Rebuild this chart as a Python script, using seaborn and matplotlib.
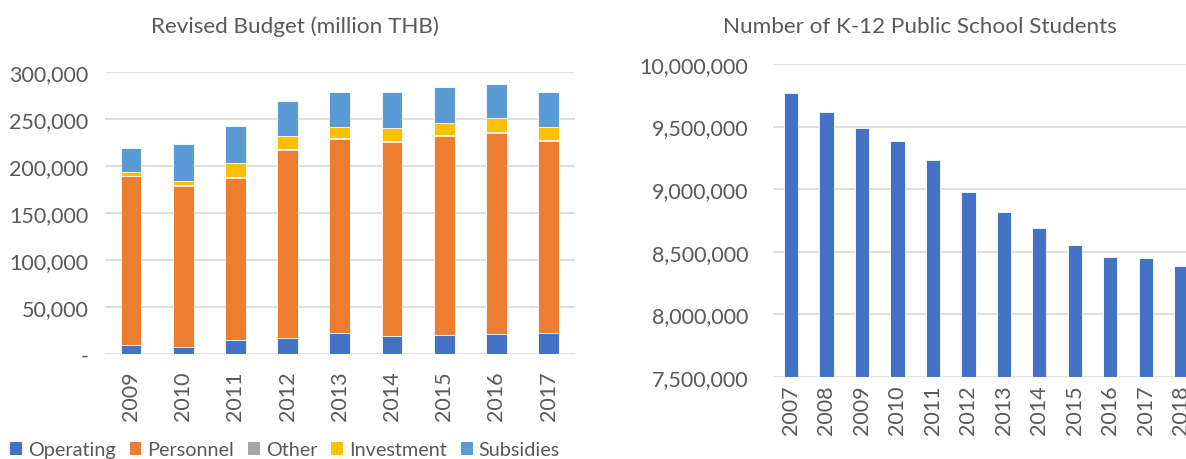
import pandas as pd
import seaborn as sns
import matplotlib.pyplot as plt
from matplotlib.ticker import FuncFormatter
from matplotlib.patches import Patch

# Revised budget (million THB), per component
budget_years = ["2009", "2010", "2011", "2012", "2013", "2014", "2015", "2016", "2017"]
operating = [9500, 8000, 14900, 17300, 22000, 19800, 20500, 20900, 22700]
personnel = [180000, 170900, 172100, 199800, 206800, 205800, 211500, 214300, 204000]
other = [500, 500, 1800, 1400, 700, 1100, 700, 700, 700]
investment = [4100, 5100, 14500, 13100, 12100, 14200, 13500, 14900, 14500]
subsidies = [25000, 39000, 39300, 37600, 37200, 38200, 37500, 36800, 36850]

# K-12 public school students
student_years = ["2007", "2008", "2009", "2010", "2011", "2012",
                 "2013", "2014", "2015", "2016", "2017", "2018"]
students = [9770000, 9616000, 9491000, 9387000, 9232000, 8974000,
            8814000, 8694000, 8555000, 8457000, 8451000, 8385000]

components = ["Operating", "Personnel", "Other", "Investment", "Subsidies"]
colors = {"Operating": "#4472C4", "Personnel": "#ED7D31", "Other": "#A5A5A5",
          "Investment": "#FFC000", "Subsidies": "#5B9BD5"}

sns.set_theme(style="white")
plt.rcParams["font.family"] = ["Lato", "DejaVu Sans"]
text_grey = "#595959"
grid_grey = "#D9D9D9"
fs = 15.5


def style_axis(ax, ypad, xpad):
    ax.set_xlabel("")
    ax.set_ylabel("")
    sns.despine(ax=ax, left=True, bottom=True, right=True, top=True)
    ax.yaxis.grid(True, color=grid_grey, linewidth=1.2)
    ax.set_axisbelow(True)
    ax.tick_params(axis="both", length=0, labelsize=fs, labelcolor=text_grey)
    ax.tick_params(axis="y", pad=ypad)
    ax.tick_params(axis="x", rotation=90, pad=xpad)


def budget_fmt(v, pos):
    return "-" if v == 0 else f"{v:,.0f}"


fig = plt.figure(figsize=(11.86, 4.6), dpi=100)

# left: stacked budget bars (draw cumulative totals back to front)
ax1 = fig.add_axes([0.0885, 0.228, 0.396, 0.613])
df = pd.DataFrame({"Year": budget_years, "Operating": operating, "Personnel": personnel,
                   "Other": other, "Investment": investment, "Subsidies": subsidies})
cum = df[components].cumsum(axis=1)
for comp in reversed(components):
    sns.barplot(x=df["Year"], y=cum[comp], color=colors[comp], width=0.4,
                edgecolor="white", linewidth=0.6, saturation=1, ax=ax1)
ax1.set_ylim(0, 300000)
ax1.set_yticks(range(0, 300001, 50000))
ax1.yaxis.set_major_formatter(FuncFormatter(budget_fmt))
style_axis(ax1, ypad=12, xpad=12)
fig.text(295 / 1186, 1 - 27 / 460, "Revised Budget (million THB)", ha="center", va="center",
         fontsize=16.2, color=text_grey)

handles = [Patch(facecolor=colors[c], edgecolor="none") for c in components]
fig.legend(handles, components, loc="center", bbox_to_anchor=(285 / 1186, 0.02), ncol=5,
           frameon=False, fontsize=14.3, handlelength=0.6, handleheight=0.6,
           handletextpad=0.3, columnspacing=0.7, labelcolor=text_grey,
           borderpad=0, borderaxespad=0)

# right: students
ax2 = fig.add_axes([0.652, 0.178, 0.359, 0.681])
sdf = pd.DataFrame({"Year": student_years, "Students": students})
sns.barplot(data=sdf, x="Year", y="Students", color="#4472C4", width=0.4,
            edgecolor="white", linewidth=0.6, saturation=1, ax=ax2)
ax2.set_ylim(7500000, 10000000)
ax2.set_yticks(range(7500000, 10000001, 500000))
ax2.yaxis.set_major_formatter(FuncFormatter(lambda v, p: f"{v:,.0f}"))
style_axis(ax2, ypad=18, xpad=5)
fig.text(920 / 1186, 1 - 27 / 460, "Number of K-12 Public School Students", ha="center",
         va="center", fontsize=16.2, color=text_grey)

fig.savefig("out.png", dpi=100)
